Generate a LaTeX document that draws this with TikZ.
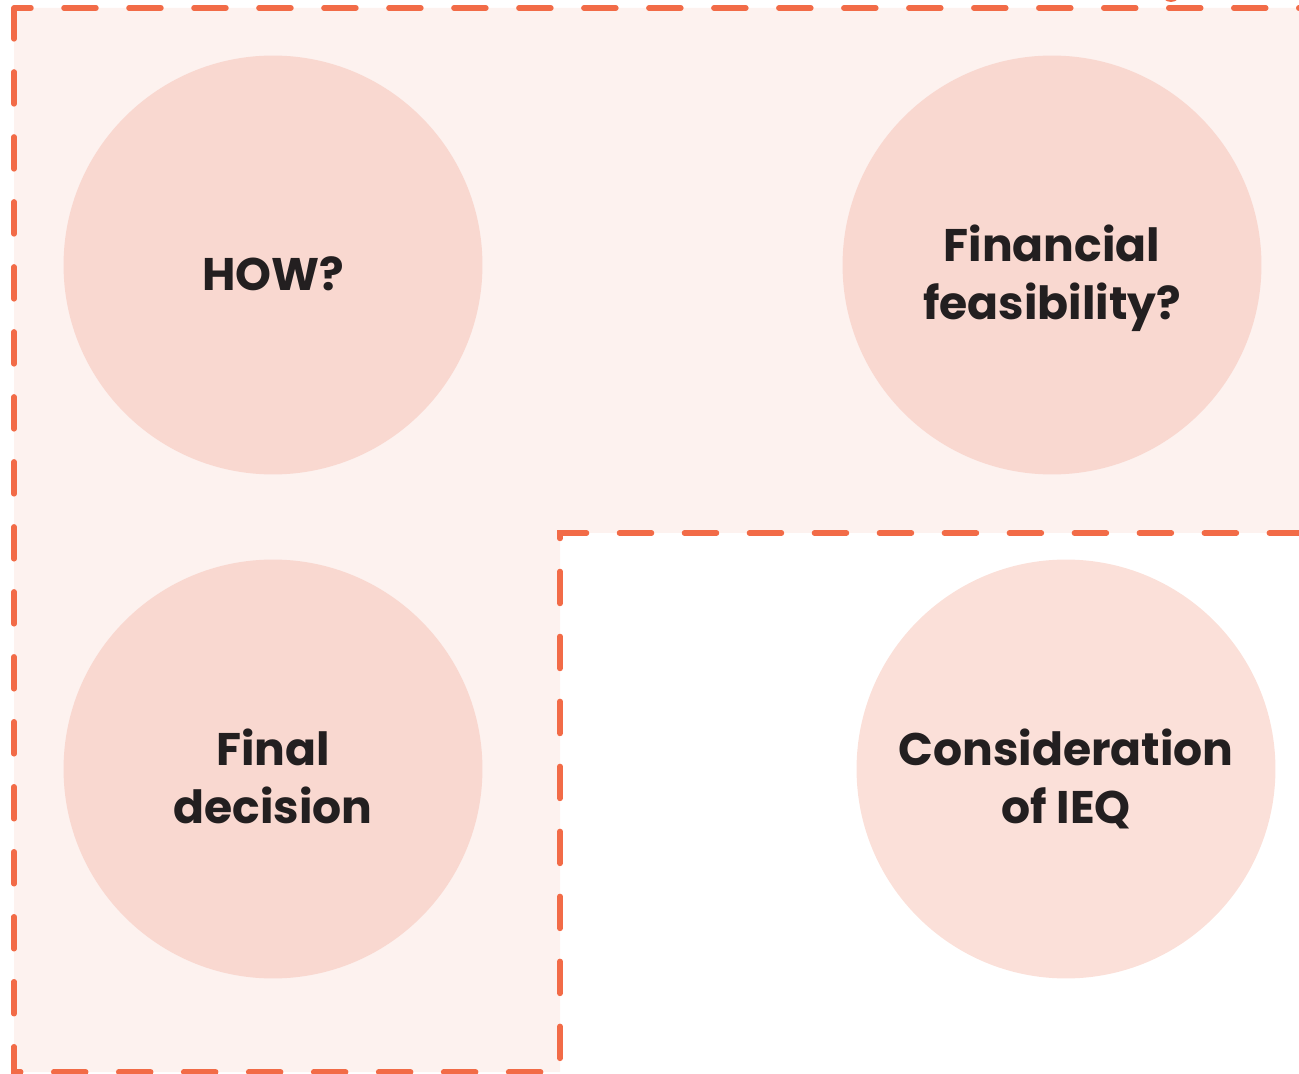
\documentclass[tikz,border=0pt]{standalone}
\usepackage{fontspec}
\setmainfont{Poppins}
\definecolor{dashorange}{HTML}{F26B47}
\definecolor{zonefill}{HTML}{FDF2EF}
\definecolor{bubblein}{HTML}{F9D8D0}
\definecolor{bubbleout}{HTML}{FBE0D9}
\definecolor{inktext}{HTML}{231F20}
\newcommand{\linetop}{\rule{0pt}{29pt}}
\begin{document}
\begin{tikzpicture}[x=0.02cm,y=-0.02cm,
  zone/.style={fill=zonefill,draw=dashorange,line width=0.11cm,line cap=round,
    dash pattern=on 0.64cm off 0.66cm,dash phase=0.3cm},
  bubble/.style={circle,fill=bubblein,minimum size=8.38cm,inner sep=0pt,align=center,
    text=inktext,font=\fontsize{26}{32.5}\selectfont\bfseries,text depth=0pt}]

\useasboundingbox (0,0) rectangle (1299,1074);

% dashed L-shaped area
\draw[zone] (14,8) -- (1330,8) -- (1330,533) -- (560,533) -- (560,1072) -- (14,1072) -- cycle;

% cut-off mark at the top
\node[circle,fill=dashorange,minimum size=0.4cm,inner sep=0pt] (topmark) at (1171,-8) {};

\node[bubble] (how) at (273,265) {\linetop HOW?};
\node[bubble] (money) at (1052,265) {\linetop Financial\\feasibility?};
\node[bubble] (final) at (273,769) {\linetop Final\\decision};
\node[bubble,fill=bubbleout] (ieq) at (1066,769) {\linetop Consideration\\of IEQ};

\end{tikzpicture}
\end{document}
